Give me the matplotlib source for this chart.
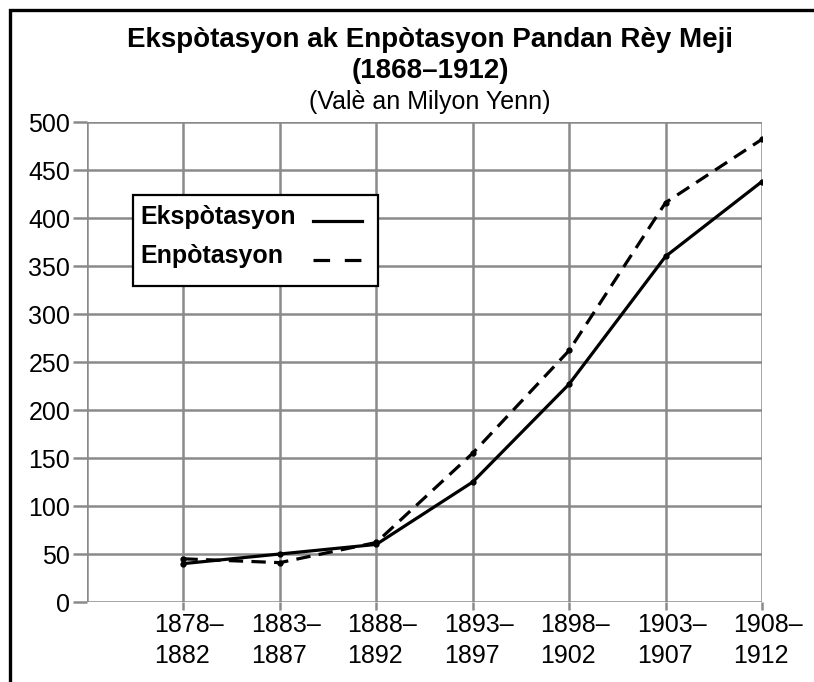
import matplotlib
matplotlib.use("Agg")
import matplotlib.pyplot as plt
from matplotlib.patches import Rectangle
from matplotlib.lines import Line2D
from matplotlib.transforms import ScaledTranslation

plt.rcParams['font.family'] = ['Liberation Sans', 'DejaVu Sans']

periods = ["1878–\n1882", "1883–\n1887", "1888–\n1892", "1893–\n1897",
           "1898–\n1902", "1903–\n1907", "1908–\n1912"]
exports = [40, 50, 60, 125, 227, 360, 438]
imports = [45, 41, 62, 155, 262, 416, 482]
y_ticks = list(range(0, 501, 50))
series_names = ["Ekspòtasyon", "Enpòtasyon"]

W, H = 814, 682


def px(x, y):
    # pixel position (from top-left) -> figure fraction
    return x / W, 1 - y / H


fig = plt.figure(figsize=(W / 100, H / 100), dpi=100)
ax = fig.add_axes([87 / W, 80 / H, 675 / W, 480 / H])

x = list(range(len(periods)))
grid_col = '#8a8a8a'
dash = (0, (4.5, 2.6))

for v in y_ticks:
    ax.axhline(v, color=grid_col, lw=1.8, zorder=1)
for i in x:
    ax.axvline(i, color=grid_col, lw=1.8, zorder=1)
ax.axvline(-1, color=grid_col, lw=1.8, zorder=1)

ax.plot(x, exports, color='black', lw=2.3, marker='o', ms=3.5, zorder=3)
ax.plot(x, imports, color='black', lw=2.3, ls=dash, marker='o', ms=3.5, zorder=3)

ax.set_xlim(-1.0, 6)
ax.set_ylim(0, 500)
ax.set_yticks(y_ticks)
ax.set_xticks(x)
ax.set_xticklabels(periods, fontsize=18)
ax.set_yticklabels([str(v) for v in y_ticks], fontsize=18)
for s in ax.spines.values():
    s.set_visible(False)
ax.tick_params(axis='y', length=10, width=1.8, color=grid_col, pad=2)
ax.tick_params(axis='x', length=6, width=1.8, color=grid_col, pad=2)
shift = ScaledTranslation(6 / 100, 0, fig.dpi_scale_trans)
for lab in ax.get_xticklabels():
    lab.set_linespacing(1.35)
    lab.set_multialignment('left')
    lab.set_transform(lab.get_transform() + shift)

# legend box, drawn by hand so the labels line up on the left
fig.patches.append(Rectangle(px(133, 286), 245 / W, 91 / H, transform=fig.transFigure,
                             facecolor='white', edgecolor='black', lw=1.6, zorder=5))
for k, (name, ls) in enumerate(zip(series_names, ['-', (0, (5.2, 4.6))])):
    ty = 217 + 39 * k
    fig.text(*px(140, ty), name, ha='left', va='center', fontsize=18,
             weight='bold', zorder=6)
    xa, ya = px(313, ty + 4)
    xb, _ = px(362, ty + 4)
    fig.lines.append(Line2D([xa, xb], [ya, ya], transform=fig.transFigure,
                            color='black', lw=2.3, ls=ls, zorder=6))

fig.text(*px(430, 40), "Ekspòtasyon ak Enpòtasyon Pandan Rèy Meji",
         ha='center', va='center', fontsize=20, weight='bold')
fig.text(*px(430, 71), "(1868–1912)",
         ha='center', va='center', fontsize=20, weight='bold')
fig.text(*px(430, 102), "(Valè an Milyon Yenn)",
         ha='center', va='center', fontsize=18)

# page border: only top and left edges show in the crop
fig.patches.append(Rectangle(px(9.5, 700), 830 / W, 690.5 / H,
                             transform=fig.transFigure, fill=False,
                             edgecolor='black', lw=2.4))

fig.savefig("out.png", dpi=100)
